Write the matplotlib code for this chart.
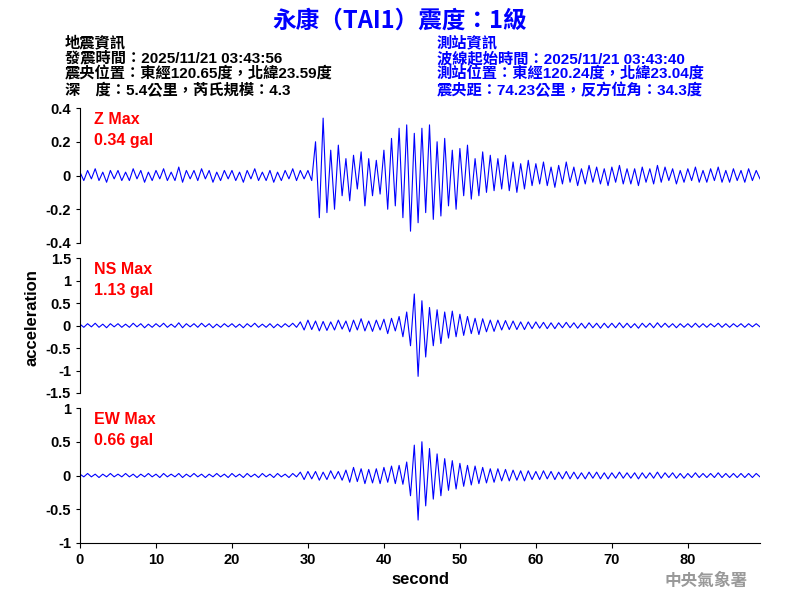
import numpy as np
import matplotlib
matplotlib.use("Agg")
import matplotlib.pyplot as plt

plt.rcParams['font.family'] = ['Liberation Sans', 'Noto Sans CJK TC', 'DejaVu Sans']

dt = 0.5
z = [0.02,-0.03,0.03,-0.02,0.04,-0.03,0.02,-0.04,0.03,-0.02,0.03,-0.03,0.02,-0.03,0.04,-0.02,0.03,-0.04,0.02,-0.03,
     0.03,-0.02,0.04,-0.03,0.02,-0.03,0.05,-0.04,0.03,-0.02,0.03,-0.03,0.04,-0.02,0.03,-0.04,0.02,-0.03,0.03,-0.02,
     0.03,-0.03,0.02,-0.04,0.03,-0.02,0.04,-0.03,0.02,-0.03,0.03,-0.04,0.02,-0.03,0.03,-0.02,0.04,-0.03,0.03,-0.02,0.03,-0.03,
     0.20,-0.25,0.34,-0.22,0.15,-0.20,0.18,-0.12,
     0.10,-0.15,0.12,-0.08,0.14,-0.18,0.10,-0.12,0.09,-0.11,
     0.15,-0.20,0.22,-0.18,0.28,-0.25,0.30,-0.33,0.25,-0.28,
     0.28,-0.22,0.30,-0.26,0.20,-0.24,0.22,-0.18,0.15,-0.20,
     0.16,-0.12,0.18,-0.14,0.10,-0.12,0.14,-0.10,0.12,-0.09,
     0.10,-0.08,0.12,-0.09,0.08,-0.10,0.07,-0.08,0.09,-0.06,
     0.07,-0.05,0.08,-0.06,0.05,-0.07,0.06,-0.05,0.08,-0.04,0.05,-0.06,0.04,-0.05,0.06,-0.04,0.05,-0.05,0.04,-0.06,
     0.05,-0.04,0.06,-0.05,0.04,-0.05,0.04,-0.06,0.05,-0.04,0.04,-0.05,0.06,-0.04,0.05,-0.03,0.04,-0.05,0.03,-0.04,
     0.04,-0.03,0.05,-0.04,0.03,-0.04,0.04,-0.03,0.05,-0.04,0.03,-0.04,0.04,-0.03,0.03,-0.04,0.04,-0.03,0.03,-0.02]
ns = [0.03,-0.04,0.04,-0.03,0.05,-0.04,0.03,-0.05,0.04,-0.03,0.04,-0.04,0.03,-0.04,0.05,-0.03,0.04,-0.05,0.03,-0.04,
      0.04,-0.03,0.05,-0.04,0.03,-0.04,0.06,-0.05,0.04,-0.03,0.04,-0.04,0.05,-0.03,0.04,-0.05,0.03,-0.04,0.04,-0.03,
      0.04,-0.04,0.03,-0.05,0.04,-0.03,0.05,-0.04,0.03,-0.04,0.04,-0.05,0.03,-0.04,0.04,-0.03,0.05,-0.04,0.08,-0.10,0.12,-0.09,
      0.10,-0.12,0.09,-0.11,0.08,-0.10,0.12,-0.08,
      0.10,-0.14,0.12,-0.10,0.15,-0.12,0.10,-0.13,0.12,-0.10,
      0.14,-0.18,0.16,-0.12,0.20,-0.25,0.30,-0.45,0.70,-1.13,
      0.55,-0.70,0.40,-0.45,0.35,-0.40,0.30,-0.28,0.32,-0.25,
      0.25,-0.22,0.20,-0.18,0.16,-0.20,0.15,-0.14,0.12,-0.13,
      0.12,-0.10,0.11,-0.09,0.10,-0.09,0.08,-0.09,0.08,-0.07,
      0.08,-0.06,0.07,-0.07,0.06,-0.07,0.06,-0.05,0.07,-0.05,0.06,-0.06,0.05,-0.06,0.06,-0.05,0.05,-0.06,0.05,-0.05,
      0.05,-0.05,0.06,-0.05,0.05,-0.05,0.04,-0.06,0.05,-0.04,0.05,-0.05,0.06,-0.04,0.05,-0.04,0.04,-0.05,0.04,-0.04,
      0.04,-0.04,0.05,-0.04,0.04,-0.04,0.04,-0.03,0.05,-0.04,0.04,-0.04,0.04,-0.03,0.04,-0.04,0.04,-0.03,0.04,-0.03]
ew = [0.02,-0.02,0.03,-0.02,0.02,-0.03,0.02,-0.02,0.03,-0.02,0.02,-0.02,0.03,-0.02,0.02,-0.03,0.02,-0.02,0.03,-0.02,
      0.02,-0.03,0.03,-0.02,0.02,-0.02,0.03,-0.03,0.02,-0.02,0.03,-0.02,0.02,-0.03,0.02,-0.02,0.03,-0.02,0.02,-0.03,
      0.03,-0.02,0.02,-0.03,0.03,-0.02,0.02,-0.03,0.03,-0.02,0.02,-0.03,0.03,-0.02,0.02,-0.03,0.03,-0.02,0.05,-0.06,0.06,-0.05,
      0.06,-0.07,0.05,-0.06,0.07,-0.05,0.06,-0.07,
      0.08,-0.10,0.12,-0.09,0.10,-0.12,0.09,-0.11,0.10,-0.12,
      0.12,-0.10,0.14,-0.12,0.15,-0.13,0.20,-0.30,0.45,-0.66,
      0.50,-0.45,0.40,-0.35,0.32,-0.30,0.25,-0.22,0.22,-0.20,
      0.18,-0.16,0.15,-0.14,0.14,-0.12,0.12,-0.11,0.10,-0.10,
      0.10,-0.08,0.09,-0.08,0.08,-0.07,0.07,-0.08,0.07,-0.06,
      0.06,-0.06,0.07,-0.05,0.06,-0.06,0.05,-0.05,0.06,-0.05,0.05,-0.05,0.04,-0.05,0.05,-0.04,0.05,-0.05,0.04,-0.05,
      0.04,-0.04,0.05,-0.04,0.04,-0.04,0.04,-0.05,0.04,-0.04,0.04,-0.04,0.05,-0.04,0.04,-0.03,0.04,-0.04,0.03,-0.04,
      0.03,-0.03,0.04,-0.03,0.03,-0.03,0.03,-0.03,0.04,-0.03,0.03,-0.03,0.03,-0.03,0.03,-0.03,0.03,-0.03,0.03,-0.02]

labels = ["Z Max\n0.34 gal", "NS Max\n1.13 gal", "EW Max\n0.66 gal"]
ylims = [(-0.4, 0.4), (-1.5, 1.5), (-1, 1)]
yticks = [[-0.4, -0.2, 0, 0.2, 0.4], [-1.5, -1, -0.5, 0, 0.5, 1, 1.5], [-1, -0.5, 0, 0.5, 1]]
yticklabels = [["-0.4", "-0.2", "0", "0.2", "0.4"], ["-1.5", "-1", "-0.5", "0", "0.5", "1", "1.5"], ["-1", "-0.5", "0", "0.5", "1"]]

fig = plt.figure(figsize=(8, 6), dpi=100)
bottoms = [0.595, 0.345, 0.095]
for i, (d, lab) in enumerate(zip([z, ns, ew], labels)):
    ax = fig.add_axes([0.1, bottoms[i], 0.85, 0.225])
    t = np.arange(len(d)) * dt
    ax.plot(t, d, color='#0000ff', lw=0.8)
    ax.set_xlim(0, 89.5)
    ax.set_ylim(*ylims[i])
    ax.set_yticks(yticks[i])
    ax.set_yticklabels(yticklabels[i], fontsize=10.5, fontweight='bold')
    for s in ['top', 'right']:
        ax.spines[s].set_visible(False)
    if i < 2:
        ax.spines['bottom'].set_visible(False)
        ax.set_xticks([])
    else:
        ax.set_xticks(range(0, 90, 10))
        ax.set_xticklabels([str(v) for v in range(0, 90, 10)], fontsize=10.5, fontweight='bold')
        ax.set_xlabel("second", fontsize=12, fontweight='bold')
    ax.tick_params(axis='y', length=3)
    ax.text(0.02, 0.97, lab, transform=ax.transAxes, color='red', fontsize=11.5,
            va='top', ha='left', fontweight='bold', linespacing=1.5)

fig.text(0.04, 0.47, "acceleration", rotation=90, fontsize=12, fontweight='bold',
         va='center', ha='center')

fig.text(0.5, 0.965, "永康（TAI1）震度：1級", color='#0000ff', fontsize=17, fontweight='bold',
         ha='center', va='center', family=['Noto Sans CJK TC'])
left_lines = ["地震資訊", "發震時間：2025/11/21 03:43:56", "震央位置：東經120.65度，北緯23.59度",
              "深　度：5.4公里，芮氏規模：4.3"]
right_lines = ["測站資訊", "波線起始時間：2025/11/21 03:43:40", "測站位置：東經120.24度，北緯23.04度",
               "震央距：74.23公里，反方位角：34.3度"]
for k, (l, r) in enumerate(zip(left_lines, right_lines)):
    y = 1 - (43 + 15.7 * k) / 600
    fig.text(0.081, y, l, fontsize=11, ha='left', va='center', color='black', fontweight='bold')
    fig.text(0.546, y, r, fontsize=11, ha='left', va='center', color='#0000ff', fontweight='bold')

fig.text(0.935, 0.032, "中央氣象署", color='#999999', fontsize=12, fontweight='bold',
         ha='right', va='center', family=['Noto Sans CJK TC'])

fig.savefig("out.png", dpi=100)
